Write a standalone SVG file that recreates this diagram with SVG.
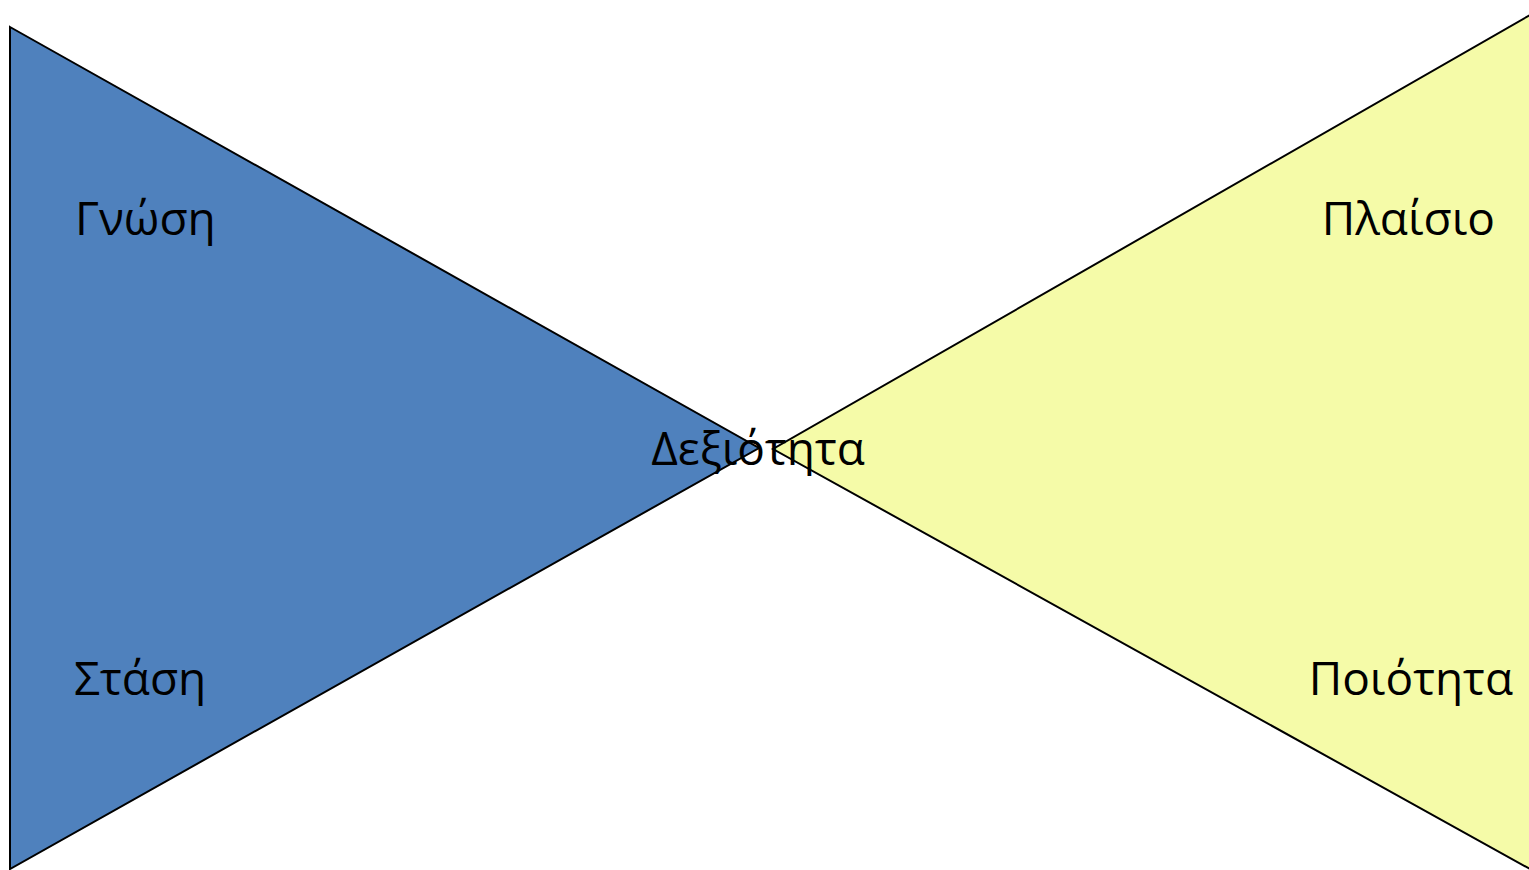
<svg xmlns="http://www.w3.org/2000/svg" width="1529" height="870" viewBox="0 0 1529 870">
<style>
.tri{stroke:#000;stroke-width:2;stroke-linejoin:miter}
.lbl{font-family:"Open Sans","Noto Sans","DejaVu Sans",sans-serif;font-size:46px;fill:#000}
</style>
<rect width="1529" height="870" fill="#fff"/>
<g id="left-triangle">
<polygon class="tri" points="10,27 759,448 10,869" fill="#4F81BD"/>
</g>
<g id="right-triangle">
<polygon class="tri" points="1530,15 773,449 1530,869" fill="#F5FBA8"/>
</g>
<g id="labels">
<text id="gnosi" class="lbl" x="75" y="235">Γνώση</text>
<text id="stasi" class="lbl" x="74" y="695">Στάση</text>
<text id="plaisio" class="lbl" x="1495" y="235" text-anchor="end">Πλαίσιο</text>
<text id="poiotita" class="lbl" x="1513" y="695" text-anchor="end">Ποιότητα</text>
<text id="dexiotita" class="lbl" x="758" y="465" text-anchor="middle">Δεξιότητα</text>
</g>
</svg>
